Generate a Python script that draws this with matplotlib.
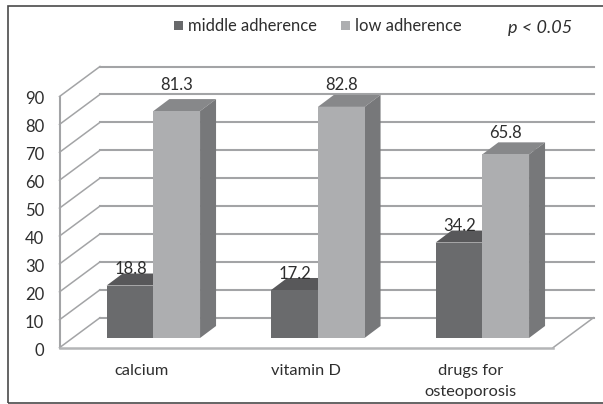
import matplotlib
matplotlib.use('Agg')
import matplotlib.pyplot as plt
from matplotlib.patches import Polygon, Rectangle
from matplotlib.transforms import ScaledTranslation

categories = ['calcium', 'vitamin D', 'drugs for\nosteoporosis']
middle = [18.8, 17.2, 34.2]
low = [81.3, 82.8, 65.8]
yticks = list(range(0, 100, 10))
label_gap = [[17, 16, 17], [26, 21.5, 21]]

W, H = 603, 404
plt.rcParams['font.family'] = ['Lato', 'DejaVu Sans']
TXT = '#2e2e2e'
GRID = '#a3a4a6'

fig = plt.figure(figsize=(W / 100, H / 100), dpi=100)
# plot area = front plane of the fake 3d box, in pixels
left, right, top, bottom = 59.5, 553.0, 96.5, 347.7
ax = fig.add_axes([left / W, 1 - bottom / H, (right - left) / W, (bottom - top) / H])
ax.set_xlim(-0.5, 2.5)
ax.set_ylim(0, 90)
ax.patch.set_visible(False)

px = 3.0 / (right - left)
py = 90.0 / (bottom - top)
wall_dx, wall_dy = 40.5 * px, 30 * py
bar_dx, bar_dy = 16 * px, 12 * py
bar_w = 46.7 * px
bar_base = 9.7 * py
bar_shift = 11.6 * px

# walls and floor
for v in yticks:
    ax.plot([-0.5 + wall_dx, 2.5 + wall_dx], [v + wall_dy, v + wall_dy], color=GRID, lw=1.5, clip_on=False, zorder=1)
    ax.plot([-0.5, -0.5 + wall_dx], [v, v + wall_dy], color=GRID, lw=1.1, clip_on=False, zorder=1)
ax.plot([2.5, 2.5 + wall_dx], [0, wall_dy], color=GRID, lw=1.1, clip_on=False, zorder=1)

for s in ['top', 'right']:
    ax.spines[s].set_visible(False)
ax.spines['left'].set_color(GRID)
ax.spines['left'].set_linewidth(1.5)
ax.spines['bottom'].set_color('#b4b5b7')
ax.spines['bottom'].set_linewidth(1.8)


def bar3d(x0, val, front, side, roof, z):
    x1 = x0 + bar_w
    y0, y1 = bar_base, bar_base + val
    ax.add_patch(Polygon([(x0, y1), (x1, y1), (x1 + bar_dx, y1 + bar_dy), (x0 + bar_dx, y1 + bar_dy)],
                         color=roof, lw=0, clip_on=False, zorder=z))
    ax.add_patch(Polygon([(x1, y0), (x1 + bar_dx, y0 + bar_dy), (x1 + bar_dx, y1 + bar_dy), (x1, y1)],
                         color=side, lw=0, clip_on=False, zorder=z))
    ax.add_patch(Rectangle((x0, y0), bar_w, val, color=front, lw=0, clip_on=False, zorder=z + 0.1))


for i in range(len(categories)):
    c = i + bar_shift
    bar3d(c - bar_w, middle[i], '#6a6b6d', '#5a5a5c', '#58585a', 3)
    bar3d(c, low[i], '#adaeb0', '#77787a', '#87888a', 4)
    ax.text(c - bar_w / 2 + 0.005, bar_base + middle[i] + label_gap[0][i] * py, '%.1f' % middle[i],
            ha='center', va='center', fontsize=12, color=TXT, zorder=6)
    ax.text(c + bar_w / 2, bar_base + low[i] + label_gap[1][i] * py, '%.1f' % low[i],
            ha='center', va='center', fontsize=12, color=TXT, zorder=6)

ax.set_yticks(yticks)
ax.set_xticks(range(len(categories)))
ax.set_xticklabels(categories, linespacing=1.6)
ax.tick_params(axis='y', length=0, pad=11, labelsize=12, labelcolor=TXT)
ax.tick_params(axis='x', length=0, pad=12, labelsize=11.8, labelcolor=TXT)
for lab in ax.get_yticklabels():
    lab.set_transform(lab.get_transform() + ScaledTranslation(0, -1.5 / 100, fig.dpi_scale_trans))

# legend + p value, placed by hand like the original
legend_x = [174, 341]
legend_names = ['middle adherence', 'low adherence']
legend_cols = ['#68696b', '#adaeb0']
for x, name, col in zip(legend_x, legend_names, legend_cols):
    fig.patches.append(Rectangle((x / W, 1 - 30 / H), 9 / W, 9 / H, transform=fig.transFigure, color=col, lw=0))
    fig.text((x + 14) / W, 1 - 26 / H, name, ha='left', va='center', fontsize=11.9, color=TXT)
fig.text(508 / W, 1 - 28 / H, 'p < 0.05', ha='left', va='center', fontsize=13, style='italic', color=TXT)

# outer frame
fig.patches.append(Rectangle((7.5 / W, 1 - 403 / H), 610 / W, 397 / H, transform=fig.transFigure,
                             fill=False, ec='#4a4a4a', lw=1.2))

fig.savefig('out.png', dpi=100, facecolor='white')
